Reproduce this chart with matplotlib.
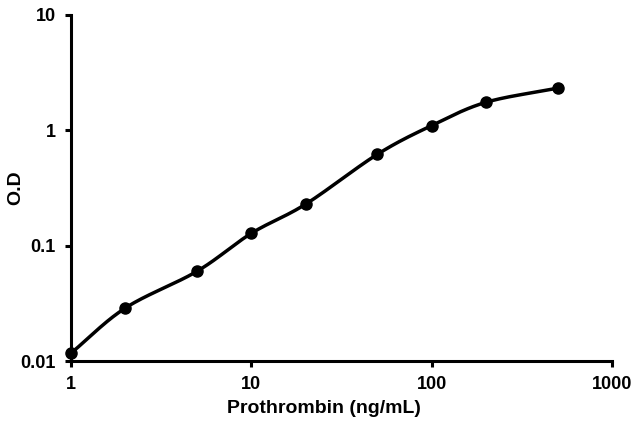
import numpy as np
import matplotlib
matplotlib.use('Agg')
import matplotlib.pyplot as plt
from matplotlib.ticker import FixedLocator, NullLocator, FixedFormatter

# standard curve data
conc = [1, 2, 5, 10, 20, 50, 100, 200, 500]
od = [0.0117, 0.0288, 0.060, 0.128, 0.229, 0.62, 1.10, 1.75, 2.32]

xticks = [1, 10, 100, 1000]
xlabels = ['1', '10', '100', '1000']
yticks = [0.01, 0.1, 1, 10]
ylabels = ['0.01', '0.1', '1', '10']

plt.rcParams['font.family'] = ['Liberation Sans', 'DejaVu Sans']
plt.rcParams['font.weight'] = 'bold'


def smooth(x, y, n=30):
    # Catmull-Rom through the points in log space (like Excel smoothed line)
    lx = np.log10(x)
    ly = np.log10(y)
    px = np.concatenate([[2*lx[0]-lx[1]], lx, [2*lx[-1]-lx[-2]]])
    py = np.concatenate([[2*ly[0]-ly[1]], ly, [2*ly[-1]-ly[-2]]])
    outx, outy = [], []
    t = np.linspace(0, 1, n)
    for i in range(1, len(px)-2):
        for p, out in ((px, outx), (py, outy)):
            p0, p1, p2, p3 = p[i-1], p[i], p[i+1], p[i+2]
            seg = 0.5*((2*p1) + (-p0+p2)*t + (2*p0-5*p1+4*p2-p3)*t**2 + (-p0+3*p1-3*p2+p3)*t**3)
            out.extend(seg)
    return 10**np.array(outx), 10**np.array(outy)


fig = plt.figure(figsize=(6.37, 4.21), dpi=100)
ax = fig.add_axes([0.1115, 0.1425, 0.8493, 0.8219])

sx, sy = smooth(conc, od)
ax.plot(sx, sy, color='black', lw=2.5, clip_on=False, zorder=3)
ax.plot(conc, od, 'o', color='black', ms=8, clip_on=False, zorder=4)

ax.set_xscale('log')
ax.set_yscale('log')
ax.set_xlim(1, 1000)
ax.set_ylim(0.01, 10)
ax.xaxis.set_major_locator(FixedLocator(xticks))
ax.xaxis.set_major_formatter(FixedFormatter(xlabels))
ax.xaxis.set_minor_locator(NullLocator())
ax.yaxis.set_major_locator(FixedLocator(yticks))
ax.yaxis.set_major_formatter(FixedFormatter(ylabels))
ax.yaxis.set_minor_locator(NullLocator())

for s in ['top', 'right']:
    ax.spines[s].set_visible(False)
for s in ['left', 'bottom']:
    ax.spines[s].set_linewidth(2.2)
ax.tick_params(direction='out', length=4, width=2.2, labelsize=13, pad=7)
for lab in ax.get_xticklabels() + ax.get_yticklabels():
    lab.set_fontweight('bold')

ax.set_xlabel('Prothrombin (ng/mL)', fontsize=14, fontweight='bold')
ax.set_ylabel('O.D', fontsize=14, fontweight='bold')
ax.xaxis.set_label_coords(0.467, -0.136, transform=ax.transAxes)
ax.yaxis.set_label_coords(-0.103, 0.5, transform=ax.transAxes)
ax.xaxis.label.set_va('center')
ax.yaxis.label.set_va('center')

fig.savefig('out.png', dpi=100)
